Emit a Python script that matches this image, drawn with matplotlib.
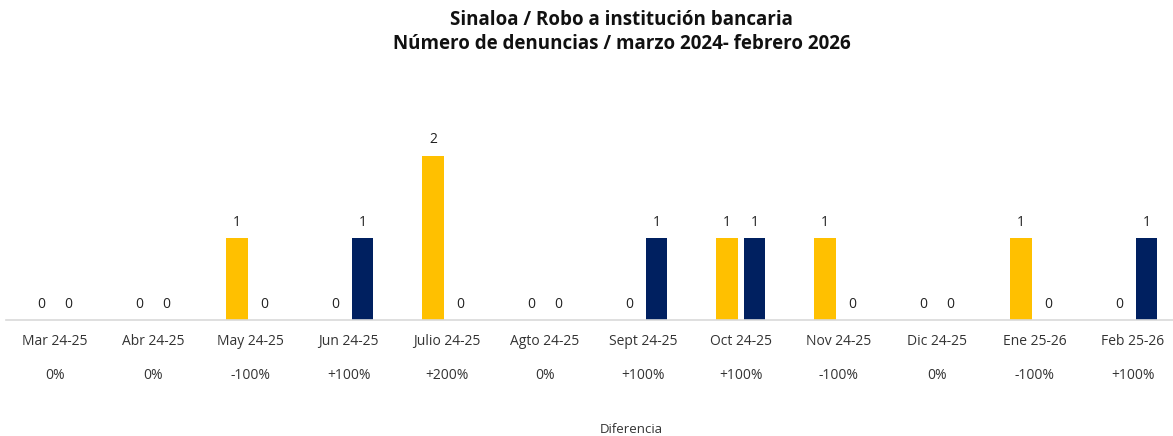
import matplotlib.pyplot as plt
import numpy as np

plt.rcParams['font.family'] = ['Open Sans', 'DejaVu Sans']

meses = ['Mar 24-25', 'Abr 24-25', 'May 24-25', 'Jun 24-25', 'Julio 24-25', 'Agto 24-25',
         'Sept 24-25', 'Oct 24-25', 'Nov 24-25', 'Dic 24-25', 'Ene 25-26', 'Feb 25-26']
periodo_1 = [0, 0, 1, 0, 2, 0, 0, 1, 1, 0, 1, 0]
periodo_2 = [0, 0, 0, 1, 0, 0, 1, 1, 0, 0, 0, 1]
diferencia = ['0%', '0%', '-100%', '+100%', '+200%', '0%',
              '+100%', '+100%', '-100%', '0%', '-100%', '+100%']

amarillo = '#FFC000'
azul = '#002060'

fig = plt.figure(figsize=(11.73, 4.36), dpi=100)
ax = fig.add_axes([0.005, 0.266, 0.995, 0.505])

x = np.arange(len(meses))
w = 0.22
off = 0.14
b1 = ax.bar(x - off, periodo_1, w, color=amarillo)
b2 = ax.bar(x + off, periodo_2, w, color=azul)

for bars in (b1, b2):
    for b in bars:
        h = b.get_height()
        ax.annotate(str(int(h)), (b.get_x() + b.get_width() / 2, h),
                    xytext=(0, 6), textcoords='offset points',
                    ha='center', va='bottom', fontsize=10, color='#222222')

ax.set_xlim(-0.5, 11.41)
ax.set_ylim(0, 2.68)
ax.set_yticks([])
ax.set_xticks(x)
ax.set_xticklabels(meses, fontsize=10, color='#333333')
ax.tick_params(axis='x', length=0, pad=10)
for s in ['top', 'right', 'left']:
    ax.spines[s].set_visible(False)
ax.spines['bottom'].set_color('#D9D9D9')
ax.spines['bottom'].set_linewidth(1.2)

for i, d in enumerate(diferencia):
    ax.text(i, -0.67, d, ha='center', va='center', fontsize=10, color='#333333')

fig.text(0.538, 0.014, 'Diferencia', ha='center', va='center', fontsize=9.5, color='#333333')

fig.text(0.53, 0.955, 'Sinaloa / Robo a institución bancaria', ha='center', va='center',
         fontsize=13.5, fontweight='bold', color='#111111')
fig.text(0.53, 0.9, 'Número de denuncias / marzo 2024- febrero 2026', ha='center', va='center',
         fontsize=13.5, fontweight='bold', color='#111111')

fig.savefig('out.png', dpi=100)
